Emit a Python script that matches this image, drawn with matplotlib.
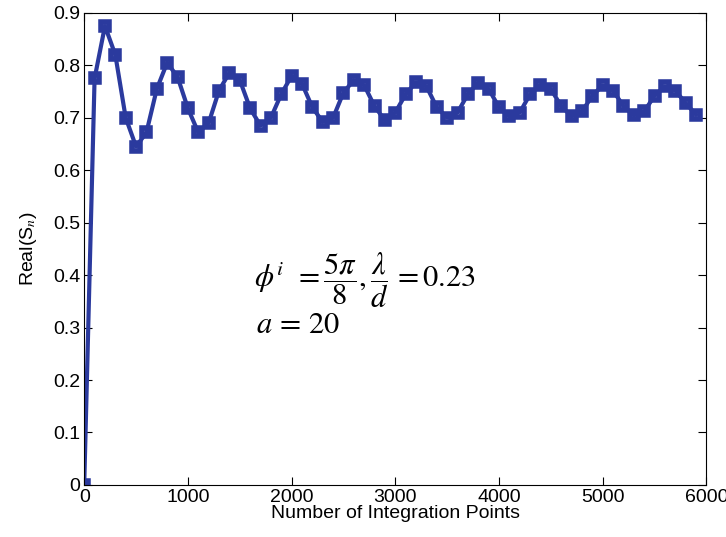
import numpy as np
import matplotlib
matplotlib.use("Agg")
import matplotlib.pyplot as plt

# integration points and real part of S_n
n_points = list(range(0, 6000, 100))
real_sn = [0.0, 0.775, 0.875, 0.82, 0.70, 0.645, 0.672, 0.755, 0.805, 0.778,
           0.718, 0.672, 0.69, 0.752, 0.786, 0.772, 0.718, 0.685, 0.70, 0.745,
           0.78, 0.765, 0.72, 0.692, 0.70, 0.748, 0.772, 0.762, 0.722, 0.695,
           0.71, 0.745, 0.768, 0.76, 0.72, 0.70, 0.71, 0.745, 0.767, 0.755,
           0.72, 0.703, 0.71, 0.745, 0.763, 0.755, 0.722, 0.703, 0.712, 0.742,
           0.762, 0.752, 0.722, 0.705, 0.712, 0.742, 0.76, 0.752, 0.728, 0.706]

x_ticks = [0, 1000, 2000, 3000, 4000, 5000, 6000]
y_ticks = [0, 0.1, 0.2, 0.3, 0.4, 0.5, 0.6, 0.7, 0.8, 0.9]

plt.rcParams['font.family'] = ['Liberation Sans', 'DejaVu Sans']
plt.rcParams['mathtext.fontset'] = 'stix'

fig = plt.figure(figsize=(7.26, 5.37), dpi=100)
ax = fig.add_axes([0.116, 0.097, 0.857, 0.879])

ax.plot(n_points, real_sn, color='#2b3a9e', linewidth=3, marker='s',
        markersize=5.5, markerfacecolor='none', markeredgewidth=4)

ax.set_xlim(0, 6000)
ax.set_ylim(0, 0.9)
ax.set_xticks(x_ticks)
ax.set_yticks(y_ticks)
ax.set_yticklabels(['0'] + [f"{v:.1f}" for v in y_ticks[1:]])
ax.tick_params(direction='in', top=True, right=True, length=6, labelsize=14,
               pad=3)
ax.set_xlabel("Number of Integration Points", fontsize=14, labelpad=-1)
ax.set_ylabel(r"Real(S$_n$)", fontsize=14, labelpad=10)

ax.text(1640, 0.39, r'$\phi^{i}\;\,=\dfrac{5\pi}{8},\dfrac{\lambda}{d}\,=0.23$',
        fontsize=22, va='center', ha='left')
ax.text(1660, 0.305, r'$a\,=\,20$', fontsize=22, va='center', ha='left')

fig.savefig("out.png", dpi=100)
